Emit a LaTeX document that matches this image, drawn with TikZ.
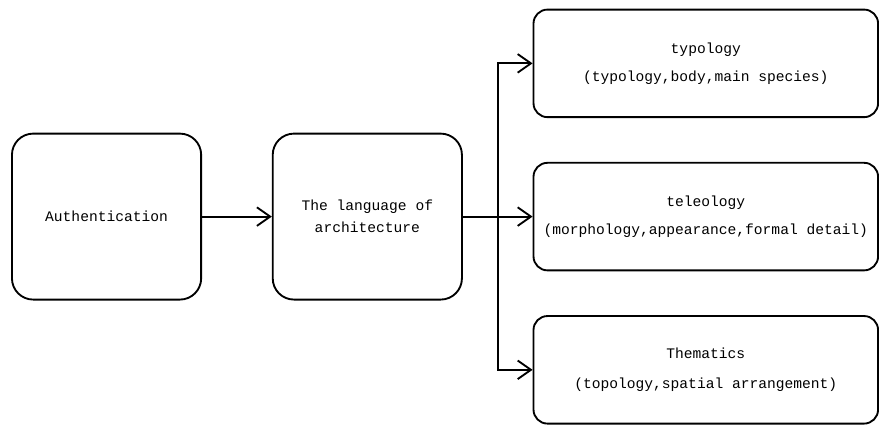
\documentclass[tikz,border=0pt]{standalone}
\usepackage{fontspec}
\setmainfont{Liberation Mono}
\usetikzlibrary{positioning, arrows.meta, calc}

\begin{document}
\begin{tikzpicture}[
node distance=52.5pt,
auto,
block/.style={
	rectangle,
	draw,
	line width=1.4pt,
	align=center,
	rounded corners=16pt,
	minimum width=142.5pt,
	minimum height=125pt,
	font=\fontsize{11}{13.5}\selectfont
},
leaf/.style={
	block,
	rounded corners=10.5pt,
	minimum width=259.5pt,
	minimum height=81pt
},
line/.style={
	draw, line width=1.4pt, -{Straight Barb[length=10pt, width=14pt, line width=1.4pt]}
}
]

% Nodes
\node[block] (auth) {Authentication};
\node[block, right=of auth] (language) {The language of\\[3pt]architecture};
\node[leaf, right=of language] (teleology) {teleology\\[7.5pt](morphology,appearance,formal detail)};
\node[leaf, above=33pt of teleology] (typology) {typology\\[7.5pt](typology,body,main species)};
\node[leaf, below=33pt of teleology] (thematics) {Thematics\\[9.5pt](topology,spatial arrangement)};
\coordinate (split) at ($(language.east)!0.5!(teleology.west)$);

\useasboundingbox (-80.25pt,163.125pt) rectangle (579pt,-152.625pt);

% Lines
\draw[line] (auth) -- (language);
\draw[line width=1.4pt] (language) -- (split);
\draw[line] (split) |- (typology.west);
\draw[line] (split) -- (teleology);
\draw[line] (split) |- (thematics.west);

\end{tikzpicture}
\end{document}
